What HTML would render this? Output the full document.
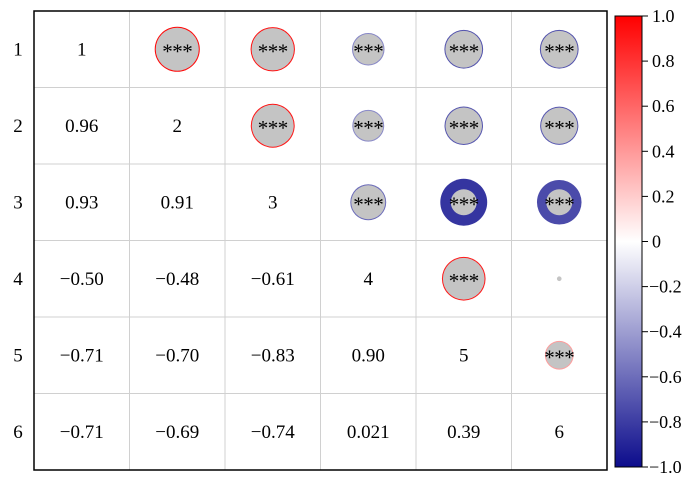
<!DOCTYPE html>
<html><head><meta charset="utf-8"><style>
body{margin:0;background:#fff;}
svg{display:block;font-family:"Liberation Serif",serif;}
</style></head><body>
<svg id="c" width="700" height="481"></svg>
<script>
const labels=["1","2","3","4","5","6"];
const corr=[
[1,0.96,0.93,-0.50,-0.71,-0.71],
[0.96,1,0.91,-0.48,-0.70,-0.69],
[0.93,0.91,1,-0.61,-0.83,-0.74],
[-0.50,-0.48,-0.61,1,0.90,0.021],
[-0.71,-0.70,-0.83,0.90,1,0.39],
[-0.71,-0.69,-0.74,0.021,0.39,1]];
const lowerText=[
[],["0.96"],["0.93","0.91"],["−0.50","−0.48","−0.61"],["−0.71","−0.70","−0.83","0.90"],["−0.71","−0.69","−0.74","0.021","0.39"]];
const sig=[
["","***","***","***","***","***"],
["","","***","***","***","***"],
["","","","***","***","***"],
["","","","","***",""],
["","","","","","***"],
["","","","","",""]];
const cbTicks=[1.0,0.8,0.6,0.4,0.2,0,-0.2,-0.4,-0.6,-0.8,-1.0];
const cbTickLabels=["1.0","0.8","0.6","0.4","0.2","0","−0.2","−0.4","−0.6","−0.8","−1.0"];

const NS="http://www.w3.org/2000/svg";
const svg=document.getElementById('c');
const L=34,R=607,T=11,B=470,n=6;
const cw=(R-L)/n,ch=(B-T)/n;
const cx=i=>L+cw*(i+0.5), cy=j=>T+ch*(j+0.5);
const cbTop=16,cbBot=467;
const cbY=v=>cbTop+(1-v)/2*(cbBot-cbTop);
function col(r){
  const a=Math.min(1,Math.abs(r));
  if(r>=0){const g=Math.round(255*(1-a));return `rgb(255,${g},${g})`;}
  const rr=Math.round(255-(255-12)*a),bb=Math.round(255-(255-140)*a);
  return `rgb(${rr},${rr},${bb})`;
}
function mk(t,a,p){const e=document.createElementNS(NS,t);for(const k in a)e.setAttribute(k,a[k]);(p||svg).appendChild(e);return e;}
for(let k=1;k<n;k++){
  const v=mk('line',{x1:L+cw*k,x2:L+cw*k,y1:T,y2:B,stroke:'#d0d0d0','stroke-width':1});
  
  
  const h=mk('line',{x1:L,x2:R,y1:T+ch*k,y2:T+ch*k,stroke:'#d0d0d0','stroke-width':1});
  
  
}
const fr=mk('rect',{x:L,y:T,width:R-L,height:B-T,fill:'none',stroke:'#000','stroke-width':1.5});


for(let j=0;j<n;j++){
  const t=mk('text',{x:18,y:cy(j)+6,'font-size':19,'text-anchor':'middle'});t.textContent=labels[j];
  
  
  for(let i=0;i<n;i++){
    if(i<=j){
      const s=mk('text',{x:cx(i),y:cy(j)+6,'font-size':19,'text-anchor':'middle'});
      s.textContent= i===j?labels[j]:lowerText[j][i];
      
      
    } else {
      const r=corr[j][i],a=Math.abs(r);
      const ring= a>0.72&&a<0.88;
      const outer=23*Math.sqrt(a)+(ring?2.5:0);
      const inner= ring?13:Math.max(outer-1,2.2);
      const g=mk('g',{});
      
      
      if(a>0.05) mk('circle',{cx:cx(i),cy:cy(j),r:outer,fill:col(r)},g);
      mk('circle',{cx:cx(i),cy:cy(j),r:inner,fill:'#c4c4c4'},g);
      if(sig[j][i]){
        const s=mk('text',{x:cx(i),y:cy(j)+9,'font-size':21,'text-anchor':'middle','letter-spacing':'-0.5'},g);
        s.textContent=sig[j][i];
      }
    }
  }
}
const defs=mk('defs',{});
const lg=mk('linearGradient',{id:'cbg',x1:0,y1:0,x2:0,y2:1},defs);
mk('stop',{offset:'0','stop-color':'#ff0000'},lg);
mk('stop',{offset:'0.5','stop-color':'#ffffff'},lg);
mk('stop',{offset:'1','stop-color':'#0c0c8c'},lg);
const cb=mk('rect',{x:615,y:cbTop,width:27,height:cbBot-cbTop,fill:'url(#cbg)',stroke:'#000','stroke-width':1});


cbTicks.forEach((v,k)=>{
  const y=cbY(v);
  const l=mk('line',{x1:642,x2:648,y1:y,y2:y,stroke:'#000'});
  
  
  const t=mk('text',{x:v<0?649:652,y:y+6,'font-size':18});
  t.textContent=cbTickLabels[k];
  
  
});
</script>
</body></html>
